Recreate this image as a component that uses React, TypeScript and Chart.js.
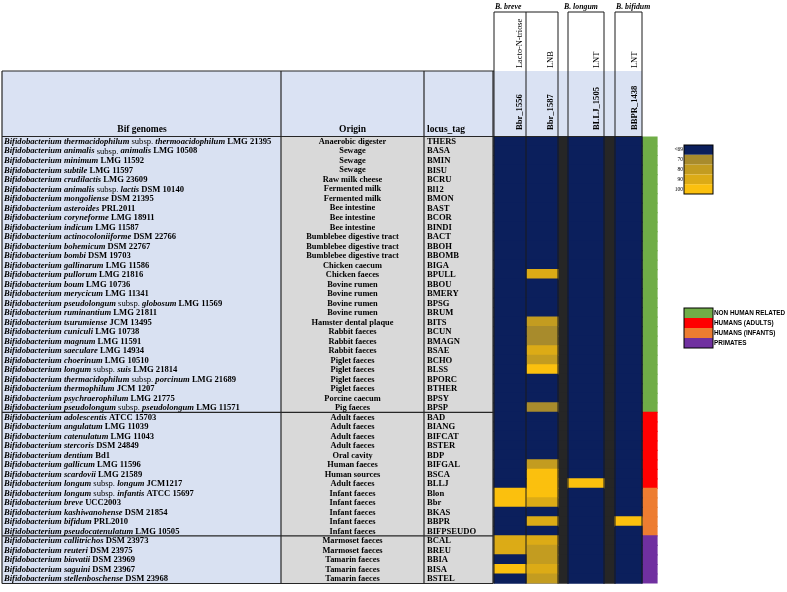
import React, { useEffect, useRef } from 'react';
import { Chart, registerables } from 'chart.js';
Chart.register(...registerables);

// ---------------- DATA ----------------
const species: string[] = [
  'Bifidobacterium thermacidophilum subsp. thermoacidophilum',
  'Bifidobacterium animalis subsp. animalis',
  'Bifidobacterium minimum',
  'Bifidobacterium subtile',
  'Bifidobacterium crudilactis',
  'Bifidobacterium animalis subsp. lactis',
  'Bifidobacterium mongoliense',
  'Bifidobacterium asteroides',
  'Bifidobacterium coryneforme',
  'Bifidobacterium indicum',
  'Bifidobacterium actinocoloniiforme',
  'Bifidobacterium bohemicum',
  'Bifidobacterium bombi',
  'Bifidobacterium gallinarum',
  'Bifidobacterium pullorum',
  'Bifidobacterium boum',
  'Bifidobacterium merycicum',
  'Bifidobacterium pseudolongum subsp. globosum',
  'Bifidobacterium ruminantium',
  'Bifidobacterium tsurumiense',
  'Bifidobacterium cuniculi',
  'Bifidobacterium magnum',
  'Bifidobacterium saeculare',
  'Bifidobacterium choerinum',
  'Bifidobacterium longum subsp. suis',
  'Bifidobacterium thermacidophilum  subsp. porcinum',
  'Bifidobacterium thermophilum',
  'Bifidobacterium psychraerophilum',
  'Bifidobacterium pseudolongum subsp. pseudolongum',
  'Bifidobacterium adolescentis',
  'Bifidobacterium angulatum',
  'Bifidobacterium catenulatum',
  'Bifidobacterium stercoris',
  'Bifidobacterium dentium',
  'Bifidobacterium gallicum',
  'Bifidobacterium scardovii',
  'Bifidobacterium longum subsp. longum',
  'Bifidobacterium longum subsp. infantis',
  'Bifidobacterium breve',
  'Bifidobacterium kashiwanohense',
  'Bifidobacterium bifidum',
  'Bifidobacterium pseudocatenulatum',
  'Bifidobacterium callitrichos',
  'Bifidobacterium reuteri',
  'Bifidobacterium biavatii',
  'Bifidobacterium saguini',
  'Bifidobacterium stellenboschense',
];
const strains: string[] = [
  'LMG 21395', 'LMG 10508', 'LMG 11592', 'LMG 11597', 'LMG 23609', 'DSM 10140', 'DSM 21395',
  'PRL2011', 'LMG 18911', 'LMG 11587', 'DSM 22766', 'DSM 22767', 'DSM 19703', 'LMG 11586',
  'LMG 21816', 'LMG 10736', 'LMG 11341', 'LMG 11569', 'LMG 21811', 'JCM 13495', 'LMG 10738',
  'LMG 11591', 'LMG 14934', 'LMG 10510', 'LMG 21814', 'LMG 21689', 'JCM 1207', 'LMG 21775',
  'LMG 11571', 'ATCC 15703', 'LMG 11039', 'LMG 11043', 'DSM 24849', 'Bd1', 'LMG 11596',
  'LMG 21589', 'JCM1217', 'ATCC 15697', 'UCC2003', 'DSM 21854', 'PRL2010', 'LMG 10505',
  'DSM 23973', 'DSM 23975', 'DSM 23969', ' DSM 23967', 'DSM 23968',
];
const origins: string[] = [
  'Anaerobic digester', 'Sewage', 'Sewage', 'Sewage', 'Raw milk cheese', 'Fermented milk',
  'Fermented milk', 'Bee intestine', 'Bee intestine', 'Bee intestine',
  'Bumblebee digestive tract', 'Bumblebee digestive tract', 'Bumblebee digestive tract',
  'Chicken caecum', 'Chicken faeces', 'Bovine rumen', 'Bovine rumen', 'Bovine rumen',
  'Bovine rumen', 'Hamster dental plaque', 'Rabbit faeces', 'Rabbit faeces', 'Rabbit faeces',
  'Piglet faeces', 'Piglet faeces', 'Piglet faeces', 'Piglet faeces', 'Porcine caecum',
  'Pig faeces', 'Adult faeces', 'Adult faeces', 'Adult faeces', 'Adult faeces', 'Oral cavity',
  'Human faeces', 'Human sources', 'Adult faeces', 'Infant faeces', 'Infant faeces',
  'Infant faeces', 'Infant faeces', 'Infant faeces', 'Marmoset faeces', 'Marmoset faeces',
  'Tamarin faeces', 'Tamarin faeces', 'Tamarin faeces',
];
const locusTags: string[] = [
  'THERS', 'BASA', 'BMIN', 'BISU', 'BCRU', 'Bl12', 'BMON', 'BAST', 'BCOR', 'BINDI',
  'BACT', 'BBOH', 'BBOMB', 'BIGA', 'BPULL', 'BBOU', 'BMERY', 'BPSG', 'BRUM', 'BITS',
  'BCUN', 'BMAGN', 'BSAE', 'BCHO', 'BLSS', 'BPORC', 'BTHER', 'BPSY', 'BPSP', 'BAD',
  'BIANG', 'BIFCAT', 'BSTER', 'BDP', 'BIFGAL', 'BSCA', 'BLLJ', 'Blon', 'Bbr', 'BKAS',
  'BBPR', 'BIFPSEUDO', 'BCAL', 'BREU', 'BBIA', 'BISA', 'BSTEL',
];
// 0 non human, 1 adults, 2 infants, 3 primates
const groups: number[] = [
  0, 0, 0, 0, 0, 0, 0, 0, 0, 0,
  0, 0, 0, 0, 0, 0, 0, 0, 0, 0,
  0, 0, 0, 0, 0, 0, 0, 0, 0, 1,
  1, 1, 1, 1, 1, 1, 1, 2, 2, 2,
  2, 2, 3, 3, 3, 3, 3,
];
const groupNames = ['NON HUMAN RELATED', 'HUMANS (ADULTS)', 'HUMANS (INFANTS)', 'PRIMATES'];
const groupColors = ['#70ad47', '#ff0000', '#ed7d31', '#7030a0'];

const scaleLabels = ['<69', '70', '80', '90', '100'];
const scaleValues = [0, 70, 80, 90, 100];
const scaleColors = ['#0b1f5c', '#a88b2c', '#c39c20', '#dcab16', '#fbc00e'];

const speciesHeaders = ['B. breve', 'B. longum', 'B. bifidum'];
const substrates = ['Lacto-N-triose', 'LNB', 'LNT', 'LNT'];
const geneIds = ['Bbr_1556', 'Bbr_1587', 'BLLJ_1505', 'BBPR_1438'];

// identity (%) per genome, 0 = below 69
const bbr1556: number[] = [
  0, 0, 0, 0, 0, 0, 0, 0, 0, 0,
  0, 0, 0, 0, 0, 0, 0, 0, 0, 0,
  0, 0, 0, 0, 0, 0, 0, 0, 0, 0,
  0, 0, 0, 0, 0, 0, 0, 100, 100, 0,
  0, 0, 90, 90, 0, 100, 0,
];
const bbr1587: number[] = [
  0, 0, 0, 0, 0, 0, 0, 0, 0, 0,
  0, 0, 0, 0, 90, 0, 0, 0, 0, 80,
  70, 70, 90, 80, 100, 0, 0, 0, 70, 0,
  0, 0, 0, 0, 80, 100, 100, 100, 90, 0,
  90, 0, 90, 80, 80, 90, 80,
];
const bllj1505: number[] = [
  0, 0, 0, 0, 0, 0, 0, 0, 0, 0,
  0, 0, 0, 0, 0, 0, 0, 0, 0, 0,
  0, 0, 0, 0, 0, 0, 0, 0, 0, 0,
  0, 0, 0, 0, 0, 0, 100, 0, 0, 0,
  0, 0, 0, 0, 0, 0, 0,
];
const bbpr1438: number[] = [
  0, 0, 0, 0, 0, 0, 0, 0, 0, 0,
  0, 0, 0, 0, 0, 0, 0, 0, 0, 0,
  0, 0, 0, 0, 0, 0, 0, 0, 0, 0,
  0, 0, 0, 0, 0, 0, 0, 0, 0, 0,
  100, 0, 0, 0, 0, 0, 0,
];

// ---------------- LAYOUT ----------------
const W = 787;
const H = 592;
const X_TABLE_L = 2;
const X_ORIGIN = 281;
const X_LOCUS = 424;
const X_TABLE_R = 493;
const HEAT_COLS: [number, number][] = [[494, 526], [526, 558], [568, 604], [615, 642]];
const GAP_COLS: [number, number][] = [[558, 568], [604, 615]];
const GROUP_COL: [number, number] = [642, 657];
const Y_HEAD_TOP = 71;
const Y_BODY_TOP = 136.5;
const Y_BODY_BOT = 583.5;
const Y_BOX_TOP = 12;

const SERIF = "'Liberation Serif', 'Times New Roman', serif";
const SANS = "'Liberation Sans', Arial, sans-serif";

function colorFor(v: number): string {
  let idx = 0;
  for (let k = 0; k < scaleValues.length; k++) if (v >= scaleValues[k]) idx = k;
  return scaleColors[idx];
}

const tablePlugin = {
  id: 'tablePlugin',
  beforeDatasetsDraw(chart: any) {
    const ctx = chart.ctx as CanvasRenderingContext2D;
    const y = chart.scales.y;
    const n = locusTags.length;
    const step = y.getPixelForValue(1) - y.getPixelForValue(0);
    const top = y.getPixelForValue(0) - step / 2;
    const bot = y.getPixelForValue(n - 1) + step / 2;
    ctx.save();
    // header band
    ctx.fillStyle = '#dae2f3';
    ctx.fillRect(X_TABLE_L, Y_HEAD_TOP, HEAT_COLS[3][1] - X_TABLE_L, top - Y_HEAD_TOP);
    // body
    ctx.fillStyle = '#d9e1f2';
    ctx.fillRect(X_TABLE_L, top, X_ORIGIN - X_TABLE_L, bot - top);
    ctx.fillStyle = '#d9d9d9';
    ctx.fillRect(X_ORIGIN, top, X_TABLE_R - X_ORIGIN + 1, bot - top);
    // underlay for the matrix so that cell seams do not show
    ctx.fillStyle = scaleColors[0];
    HEAT_COLS.forEach((c) => ctx.fillRect(c[0], top, c[1] - c[0], bot - top));
    ctx.fillStyle = '#262626';
    GAP_COLS.forEach((c) => ctx.fillRect(c[0], top, c[1] - c[0], bot - top));
    ctx.restore();
  },
  afterDatasetsDraw(chart: any) {
    const ctx = chart.ctx as CanvasRenderingContext2D;
    const y = chart.scales.y;
    const n = locusTags.length;
    const step = y.getPixelForValue(1) - y.getPixelForValue(0);
    const top = y.getPixelForValue(0) - step / 2;
    const bot = y.getPixelForValue(n - 1) + step / 2;
    ctx.save();
    ctx.fillStyle = '#000';
    ctx.textBaseline = 'middle';

    // rows text
    for (let i = 0; i < n; i++) {
      const cy = y.getPixelForValue(i) + 0.5;
      let cx = X_TABLE_L + 2;
      const seg = (t: string, font: string) => {
        ctx.font = font;
        ctx.textAlign = 'left';
        ctx.fillText(t, cx, cy);
        cx += ctx.measureText(t).width;
      };
      const parts = species[i].split(/\s+subsp\.\s+/);
      seg(parts[0], `italic bold 8.6px ${SERIF}`);
      if (parts.length > 1) {
        seg(' subsp. ', `8.6px ${SERIF}`);
        seg(parts[1], `italic bold 8.6px ${SERIF}`);
      }
      seg(' ' + strains[i].trim(), `bold 8.6px ${SERIF}`);
      ctx.font = `bold 8.4px ${SERIF}`;
      ctx.textAlign = 'center';
      ctx.fillText(origins[i], (X_ORIGIN + X_LOCUS) / 2, cy);
      ctx.textAlign = 'left';
      ctx.font = `bold 8.6px ${SERIF}`;
      ctx.fillText(locusTags[i], X_LOCUS + 3, cy);
    }

    // table lines
    ctx.strokeStyle = '#262626';
    ctx.lineWidth = 1.2;
    const line = (x1: number, y1: number, x2: number, y2: number) => {
      ctx.beginPath();
      ctx.moveTo(x1, y1);
      ctx.lineTo(x2, y2);
      ctx.stroke();
    };
    line(X_TABLE_L, Y_HEAD_TOP, HEAT_COLS[0][0], Y_HEAD_TOP);
    line(X_TABLE_L, top, HEAT_COLS[3][1], top);
    line(X_TABLE_L, bot, X_TABLE_R, bot);
    line(X_TABLE_L, Y_HEAD_TOP, X_TABLE_L, bot);
    line(X_ORIGIN, Y_HEAD_TOP, X_ORIGIN, bot);
    line(X_LOCUS, Y_HEAD_TOP, X_LOCUS, bot);
    line(X_TABLE_R, Y_HEAD_TOP, X_TABLE_R, bot);
    for (let i = 0; i < n - 1; i++) {
      if (groups[i] !== groups[i + 1] && !(groups[i] === 1 && groups[i + 1] === 2)) {
        const yy = y.getPixelForValue(i) + step / 2;
        line(X_TABLE_L, yy, X_TABLE_R, yy);
      }
    }

    // heat column lines
    ctx.lineWidth = 1;
    ctx.strokeStyle = '#1a1a1a';
    const xs = [494, 526, 558, 568, 604, 615, 642];
    xs.forEach((x) => line(x, Y_BOX_TOP, x, bot));
    line(494, Y_BOX_TOP, 558, Y_BOX_TOP);
    line(568, Y_BOX_TOP, 604, Y_BOX_TOP);
    line(615, Y_BOX_TOP, 642, Y_BOX_TOP);

    // headers
    ctx.textBaseline = 'alphabetic';
    ctx.font = `bold 9.5px ${SERIF}`;
    ctx.textAlign = 'center';
    ctx.fillText('Bif genomes', 142, top - 4.5);
    ctx.fillText('Origin', (X_ORIGIN + X_LOCUS) / 2, top - 4.5);
    ctx.textAlign = 'left';
    ctx.fillText('locus_tag', X_LOCUS + 3, top - 4.5);

    ctx.font = `italic bold 7.8px ${SERIF}`;
    const spX = [495, 564, 616];
    speciesHeaders.forEach((s, k) => ctx.fillText(s, spX[k], 9));

    const baseX = [522, 553, 599, 637];
    for (let k = 0; k < 4; k++) {
      ctx.save();
      ctx.translate(baseX[k], 68);
      ctx.rotate(-Math.PI / 2);
      ctx.font = `8.4px ${SERIF}`;
      ctx.textAlign = 'left';
      ctx.fillText(substrates[k], 0, 0);
      ctx.restore();
      ctx.save();
      ctx.translate(baseX[k], 130);
      ctx.rotate(-Math.PI / 2);
      ctx.font = `bold 8.6px ${SERIF}`;
      ctx.textAlign = 'left';
      ctx.fillText(geneIds[k], 0, 0);
      ctx.restore();
    }

    // scale legend
    const lx = 684, lw = 29;
    const ly = 145, lh = 49;
    const bh = lh / scaleColors.length;
    scaleColors.forEach((c, k) => {
      ctx.fillStyle = c;
      ctx.fillRect(lx, ly + k * bh, lw, bh);
    });
    ctx.strokeStyle = '#000';
    ctx.lineWidth = 1;
    ctx.strokeRect(lx, ly, lw, lh);
    ctx.fillStyle = '#000';
    ctx.font = `5.5px ${SERIF}`;
    ctx.textAlign = 'right';
    ctx.textBaseline = 'middle';
    scaleLabels.forEach((t, k) => ctx.fillText(t, lx - 1, ly + k * bh + bh / 2));

    // group legend
    const gy = 308, gh = 40;
    const gbh = gh / groupColors.length;
    groupColors.forEach((c, k) => {
      ctx.fillStyle = c;
      ctx.fillRect(lx, gy + k * gbh, lw, gbh);
    });
    ctx.strokeRect(lx, gy, lw, gh);
    ctx.fillStyle = '#000';
    ctx.font = `bold 6.4px ${SANS}`;
    ctx.textAlign = 'left';
    groupNames.forEach((t, k) => ctx.fillText(t, lx + lw + 1, gy + k * gbh + gbh / 2));
    ctx.restore();
  },
};

export default function App() {
  const ref = useRef<HTMLCanvasElement | null>(null);
  useEffect(() => {
    if (!ref.current) return;
    const span = (r: [number, number]) => locusTags.map(() => [r[0], r[1]]);
    const common = {
      borderWidth: 0,
      grouped: false,
      barPercentage: 1,
      categoryPercentage: 1,
      inflateAmount: 0.6,
    };
    const heatSeries = [bbr1556, bbr1587, bllj1505, bbpr1438];
    const datasets: any[] = heatSeries.map((vals, k) => ({
      ...common,
      label: geneIds[k],
      data: span(HEAT_COLS[k]),
      backgroundColor: vals.map(colorFor),
    }));
    GAP_COLS.forEach((g, k) => {
      datasets.push({ ...common, label: 'gap' + k, data: span(g), backgroundColor: '#262626' });
    });
    datasets.push({
      ...common,
      label: 'group',
      data: span(GROUP_COL),
      backgroundColor: groups.map((g) => groupColors[g]),
    });
    const chart = new Chart(ref.current, {
      type: 'bar',
      data: { labels: locusTags, datasets },
      options: {
        indexAxis: 'y',
        animation: false,
        responsive: false,
        maintainAspectRatio: false,
        layout: { padding: { top: Y_BODY_TOP, bottom: H - Y_BODY_BOT, left: 0, right: 0 } },
        scales: {
          x: { type: 'linear', min: 0, max: W, display: false },
          y: { type: 'category', display: false, offset: true },
        },
        plugins: { legend: { display: false }, tooltip: { enabled: false } },
      } as any,
      plugins: [tablePlugin],
    });
    return () => chart.destroy();
  }, []);
  return (
    <div style={{ position: 'absolute', left: 0, top: 0, width: W, height: H, background: '#fff' }}>
      <canvas ref={ref} width={W} height={H} style={{ display: 'block', width: W, height: H }} />
    </div>
  );
}
